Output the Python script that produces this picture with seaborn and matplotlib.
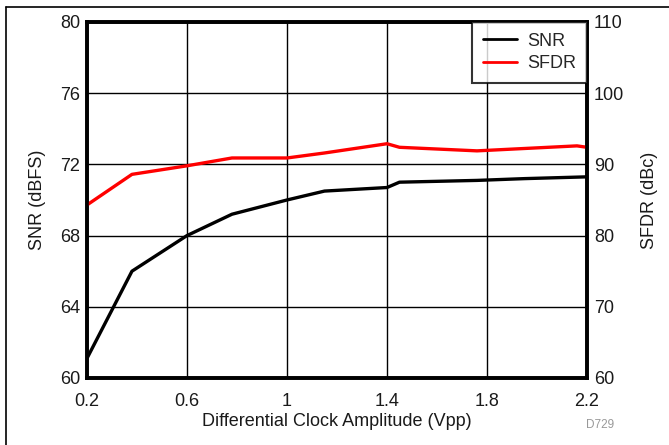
import matplotlib
matplotlib.use("Agg")
import matplotlib.pyplot as plt
from matplotlib.lines import Line2D
import seaborn as sns
import pandas as pd

# Measured performance vs. differential clock amplitude
snr_amp = [0.2, 0.38, 0.6, 0.78, 1.0, 1.15, 1.40, 1.45, 1.76, 1.95, 2.2]
snr_dbfs = [61.1, 66.0, 68.0, 69.2, 70.0, 70.5, 70.7, 71.0, 71.1, 71.2, 71.3]

sfdr_amp = [0.2, 0.38, 0.6, 0.78, 1.0, 1.15, 1.40, 1.45, 1.76, 2.16, 2.2]
sfdr_dbc = [84.3, 88.6, 89.8, 90.9, 90.9, 91.6, 92.9, 92.4, 91.9, 92.6, 92.4]

x_ticks = [0.2, 0.6, 1.0, 1.4, 1.8, 2.2]
snr_ticks = [60, 64, 68, 72, 76, 80]
sfdr_ticks = [60, 70, 80, 90, 100, 110]

sns.set_theme(style="white")
plt.rcParams["font.family"] = ["Liberation Sans", "DejaVu Sans"]

snr_df = pd.DataFrame({"amp": snr_amp, "val": snr_dbfs})
sfdr_df = pd.DataFrame({"amp": sfdr_amp, "val": sfdr_dbc})

fig = plt.figure(figsize=(6.69, 4.45), dpi=100)
ax = fig.add_axes([0.130, 0.1506, 0.7474, 0.80])
ax2 = ax.twinx()

sns.lineplot(data=snr_df, x="amp", y="val", ax=ax, color="black", lw=2.4,
             label="SNR", legend=False)
sns.lineplot(data=sfdr_df, x="amp", y="val", ax=ax2, color="#ff0000", lw=2.4,
             label="SFDR", legend=False)

ax.set_xlim(0.2, 2.2)
ax.set_ylim(60, 80)
ax2.set_ylim(60, 110)
ax.set_xticks(x_ticks)
ax.set_xticklabels([f"{v:g}" for v in x_ticks])
ax.set_yticks(snr_ticks)
ax2.set_yticks(sfdr_ticks)

ax.grid(True, color="black", lw=1.0)
ax.set_axisbelow(True)
ax2.grid(False)

fs = 13
for a in (ax, ax2):
    for s in a.spines.values():
        s.set_color("black")
        s.set_linewidth(2.6)
    a.tick_params(labelsize=fs, colors="#1a1a1a", length=0, pad=5)
ax.tick_params(axis="x", pad=11)

ax.set_xlabel("Differential Clock Amplitude (Vpp)", fontsize=fs, color="#1a1a1a", labelpad=2)
ax.set_ylabel("SNR (dBFS)", fontsize=fs, color="#1a1a1a", labelpad=10)
ax2.set_ylabel("SFDR (dBc)", fontsize=fs, color="#1a1a1a", labelpad=12)

handles = [Line2D([], [], color="black", lw=2.0), Line2D([], [], color="#ff0000", lw=2.0)]
leg = ax2.legend(handles, ["SNR", "SFDR"], loc="upper right", fontsize=fs,
                 frameon=True, fancybox=False, borderaxespad=0.0,
                 handlelength=1.9, handletextpad=0.55, borderpad=0.6,
                 labelspacing=0.3)
leg.get_frame().set_edgecolor("black")
leg.get_frame().set_linewidth(1.5)

fig.text(0.897, 0.038, "D729", fontsize=8.5, color="#999999", ha="center")

# page frame lines
fig.add_artist(Line2D([0.009, 1.0], [0.984, 0.984], color="black", lw=1.2,
                      transform=fig.transFigure))
fig.add_artist(Line2D([0.009, 0.009], [0.0, 0.984], color="black", lw=1.2,
                      transform=fig.transFigure))

fig.savefig("out.png", dpi=100)
